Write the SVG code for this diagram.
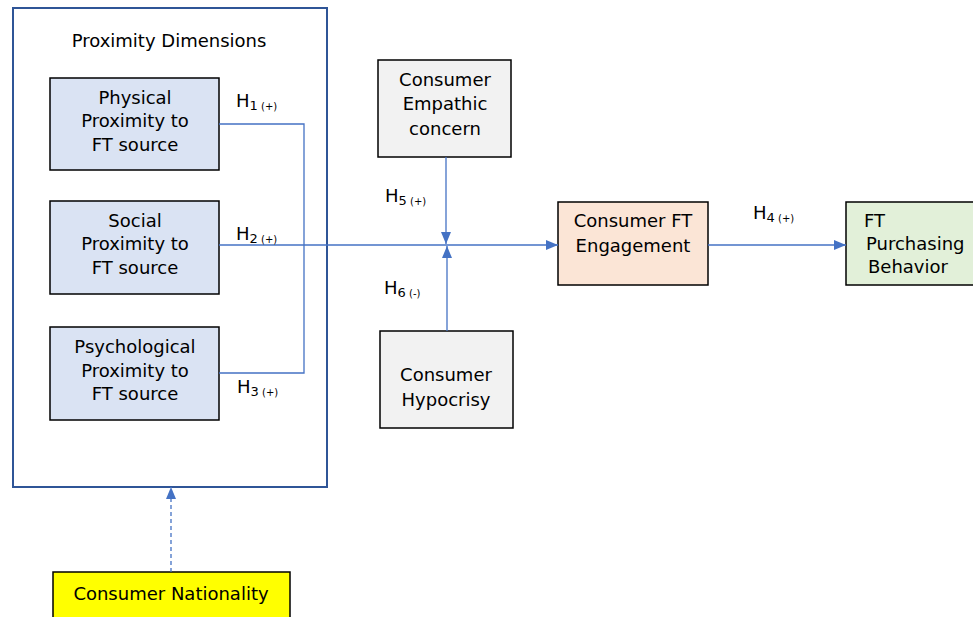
<svg xmlns="http://www.w3.org/2000/svg" width="973" height="617" viewBox="0 0 973 617">
<defs>
<marker id="ah" viewBox="0 0 12 10" refX="12" refY="5" markerWidth="12" markerHeight="10" markerUnits="userSpaceOnUse" orient="auto">
<path d="M0,0 L12,5 L0,10 Z" fill="#4472C4"/>
</marker>
</defs>
<style>
text{font-family:"DejaVu Sans",sans-serif;font-size:18px;fill:#000}
.c{text-anchor:middle}
.box{stroke:#000;stroke-width:1.5}
.ln{fill:none;stroke:#4472C4;stroke-width:1.3}
.sub{font-size:13px}
.sg{font-size:10px}
</style>
<rect width="973" height="617" fill="#fff"/>
<g id="proximity-dimensions">
<rect x="13" y="8" width="314" height="479" fill="none" stroke="#2F5597" stroke-width="2"/>
<text x="169" y="47" class="c">Proximity Dimensions</text>
</g>
<g id="physical">
<rect x="50" y="78" width="169" height="92" fill="#DAE3F3" class="box"/>
<text x="135" y="104" class="c">Physical</text>
<text x="135" y="127" class="c">Proximity to</text>
<text x="135" y="151" class="c">FT source</text>
</g>
<g id="social">
<rect x="50" y="201" width="169" height="93" fill="#DAE3F3" class="box"/>
<text x="135" y="227" class="c">Social</text>
<text x="135" y="250" class="c">Proximity to</text>
<text x="135" y="274" class="c">FT source</text>
</g>
<g id="psychological">
<rect x="50" y="327" width="169" height="93" fill="#DAE3F3" class="box"/>
<text x="135" y="353" class="c">Psychological</text>
<text x="135" y="377" class="c">Proximity to</text>
<text x="135" y="400" class="c">FT source</text>
</g>
<g id="empathic">
<rect x="378" y="60" width="133" height="97" fill="#F2F2F2" class="box"/>
<text x="445" y="86" class="c">Consumer</text>
<text x="445" y="110" class="c">Empathic</text>
<text x="445" y="135" class="c">concern</text>
</g>
<g id="hypocrisy">
<rect x="380" y="331" width="133" height="97" fill="#F2F2F2" class="box"/>
<text x="446" y="381" class="c">Consumer</text>
<text x="446" y="406" class="c">Hypocrisy</text>
</g>
<g id="engagement">
<rect x="558" y="202" width="150" height="83" fill="#FBE5D6" class="box"/>
<text x="633" y="227" class="c">Consumer FT</text>
<text x="633" y="252" class="c">Engagement</text>
</g>
<g id="purchasing">
<rect x="846" y="202" width="130" height="83" fill="#E2F0D9" class="box"/>
<text x="864" y="227">FT</text>
<text x="866" y="250">Purchasing</text>
<text x="868" y="273">Behavior</text>
</g>
<g id="nationality">
<rect x="53" y="572" width="237" height="50" fill="#FFFF00" class="box"/>
<text x="171" y="600" class="c">Consumer Nationality</text>
</g>
<g id="connectors">
<polyline class="ln" points="219,124 304,124 304,373 219,373"/>
<line class="ln" x1="219" y1="245" x2="558" y2="245" marker-end="url(#ah)"/>
<line class="ln" x1="446" y1="157" x2="446" y2="244" marker-end="url(#ah)"/>
<line class="ln" x1="447" y1="331" x2="447" y2="246" marker-end="url(#ah)"/>
<line class="ln" x1="708" y1="245" x2="846" y2="245" marker-end="url(#ah)"/>
<line class="ln" x1="171" y1="572" x2="171" y2="487" stroke-dasharray="4,3" marker-end="url(#ah)"/>
</g>
<g id="labels">
<text x="236" y="107">H<tspan class="sub" dy="3">1</tspan><tspan class="sg"> (+)</tspan></text>
<text x="236" y="240">H<tspan class="sub" dy="3">2</tspan><tspan class="sg"> (+)</tspan></text>
<text x="237" y="393">H<tspan class="sub" dy="3">3</tspan><tspan class="sg"> (+)</tspan></text>
<text x="753" y="219">H<tspan class="sub" dy="3">4</tspan><tspan class="sg"> (+)</tspan></text>
<text x="385" y="202">H<tspan class="sub" dy="3">5</tspan><tspan class="sg"> (+)</tspan></text>
<text x="384" y="294">H<tspan class="sub" dy="3">6</tspan><tspan class="sg"> (-)</tspan></text>
</g>
</svg>
